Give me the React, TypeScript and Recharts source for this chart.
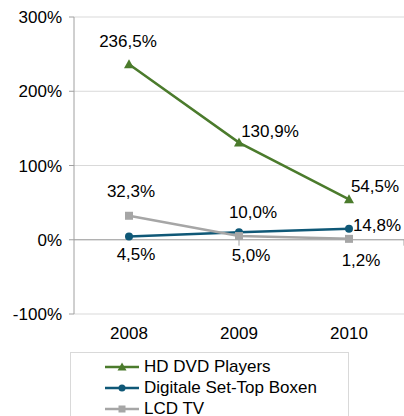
import { CartesianGrid, LabelList, Legend, Line, LineChart, ReferenceLine, XAxis, YAxis } from "recharts";

const years = ["2008", "2009", "2010"];
const hdDvd = [236.5, 130.9, 54.5];
const setTop = [4.5, 10.0, 14.8];
const lcdTv = [32.3, 5.0, 1.2];
const yTicks = [-100, 0, 100, 200, 300];
const categoryEdges = [1, 2, 3];
const seriesOrder = ["hd", "stb", "lcd"];

const data = years.map((year, i) => ({
    year,
    hd: hdDvd[i],
    stb: setTop[i],
    lcd: lcdTv[i],
}));

const FONT = "'Liberation Sans', Arial, sans-serif";
const GREEN = "#4b7b2c";
const TEAL = "#0f5877";
const GREY = "#a6a6a6";

// label offsets from each point (text centre), like Excel placed them
const hdLabelPos = [[-1, -23], [31, -11], [26, -13]];
const stbLabelPos = [[7, 18], [14, -20], [28, -3]];
const lcdLabelPos = [[2, -24], [12, 19], [12, 22]];

const pct = (v: number) => v.toFixed(1).replace(".", ",") + "%";

function makeLabel(pos: number[][]) {
    return (props: any) => {
        const { x, y, value, index } = props;
        const [dx, dy] = pos[index];
        return (
            <text
                x={x + dx}
                y={y + dy}
                textAnchor="middle"
                dominantBaseline="central"
                fontFamily={FONT}
                fontSize={17}
                fill="#000"
            >
                {pct(value)}
            </text>
        );
    };
}

function Triangle({ cx, cy, color, s = 5 }: any) {
    return <polygon points={`${cx},${cy - s} ${cx + s},${cy + s * 0.8} ${cx - s},${cy + s * 0.8}`} fill={color} />;
}

function Square({ cx, cy, color, s = 4 }: any) {
    return <rect x={cx - s} y={cy - s} width={s * 2} height={s * 2} fill={color} />;
}

function Dot({ cx, cy, color, r = 4 }: any) {
    return <circle cx={cx} cy={cy} r={r} fill={color} />;
}

const markers: Record<string, any> = {
    hd: Triangle,
    stb: Dot,
    lcd: Square,
};

function LegendBox(props: any) {
    const items = [...(props.payload || [])].sort(
        (a: any, b: any) => seriesOrder.indexOf(a.dataKey) - seriesOrder.indexOf(b.dataKey)
    );
    return (
        <div
            style={{
                width: 277,
                height: 70,
                border: "1px solid #d9d9d9",
                boxSizing: "content-box",
                fontFamily: FONT,
                fontSize: 17,
                paddingTop: 3,
            }}
        >
            {items.map((item: any) => {
                const Marker = markers[item.dataKey];
                return (
                    <div key={item.value} style={{ display: "flex", alignItems: "center", height: 21, marginLeft: 34 }}>
                        <svg width={34} height={14} style={{ marginRight: 5 }}>
                            <line x1={0} y1={7} x2={34} y2={7} stroke={item.color} strokeWidth={2.5} />
                            <Marker cx={17} cy={7} color={item.color} s={item.dataKey === "hd" ? 4.5 : 3.5} r={3.5} />
                        </svg>
                        <span style={{ color: "#000" }}>{item.value}</span>
                    </div>
                );
            })}
        </div>
    );
}

export default function App() {
    return (
        <div style={{ position: "absolute", left: 0, top: 0, background: "#fff" }}>
            <LineChart width={404} height={416} data={data} margin={{ top: 17, right: 0, bottom: 72, left: 0 }}>
                <CartesianGrid vertical={false} stroke="#d9d9d9" />

                <XAxis
                    dataKey="year"
                    padding={{ left: 55, right: 55 }}
                    axisLine={false}
                    tickLine={false}
                    tickSize={0}
                    tickMargin={13}
                    height={30}
                    tick={{ fontFamily: FONT, fontSize: 17, fill: "#000" }}
                />
                <XAxis xAxisId="frame" type="number" domain={[0, 3]} hide />

                <YAxis
                    domain={[-100, 300]}
                    ticks={yTicks}
                    width={74}
                    tickFormatter={(v) => `${v}%`}
                    axisLine={{ stroke: "#a0a0a0" }}
                    tickLine={{ stroke: "#a0a0a0" }}
                    tickSize={5}
                    tickMargin={7}
                    tick={{ fontFamily: FONT, fontSize: 17, fill: "#000" }}
                />

                <ReferenceLine y={0} stroke="#a0a0a0" />
                {categoryEdges.map((e) => (
                    <ReferenceLine
                        key={e}
                        xAxisId="frame"
                        segment={[{ x: e, y: 0 }, { x: e, y: -8 }]}
                        stroke="#a0a0a0"
                    />
                ))}

                <Legend
                    layout="vertical"
                    verticalAlign="middle"
                    align="center"
                    wrapperStyle={{ top: 352, left: 70, width: 279 }}
                    content={<LegendBox />}
                />

                <Line
                    dataKey="hd"
                    name="HD DVD Players"
                    stroke={GREEN}
                    strokeWidth={2.5}
                    dot={(p: any) => <Triangle key={p.index} cx={p.cx} cy={p.cy} color={GREEN} />}
                    isAnimationActive={false}
                >
                    <LabelList dataKey="hd" content={makeLabel(hdLabelPos)} />
                </Line>
                <Line
                    dataKey="stb"
                    name="Digitale Set-Top Boxen"
                    stroke={TEAL}
                    strokeWidth={2.5}
                    dot={(p: any) => <Dot key={p.index} cx={p.cx} cy={p.cy} color={TEAL} />}
                    isAnimationActive={false}
                >
                    <LabelList dataKey="stb" content={makeLabel(stbLabelPos)} />
                </Line>
                <Line
                    dataKey="lcd"
                    name="LCD TV"
                    stroke={GREY}
                    strokeWidth={2.5}
                    dot={(p: any) => <Square key={p.index} cx={p.cx} cy={p.cy} color={GREY} />}
                    isAnimationActive={false}
                >
                    <LabelList dataKey="lcd" content={makeLabel(lcdLabelPos)} />
                </Line>
            </LineChart>
        </div>
    );
}
